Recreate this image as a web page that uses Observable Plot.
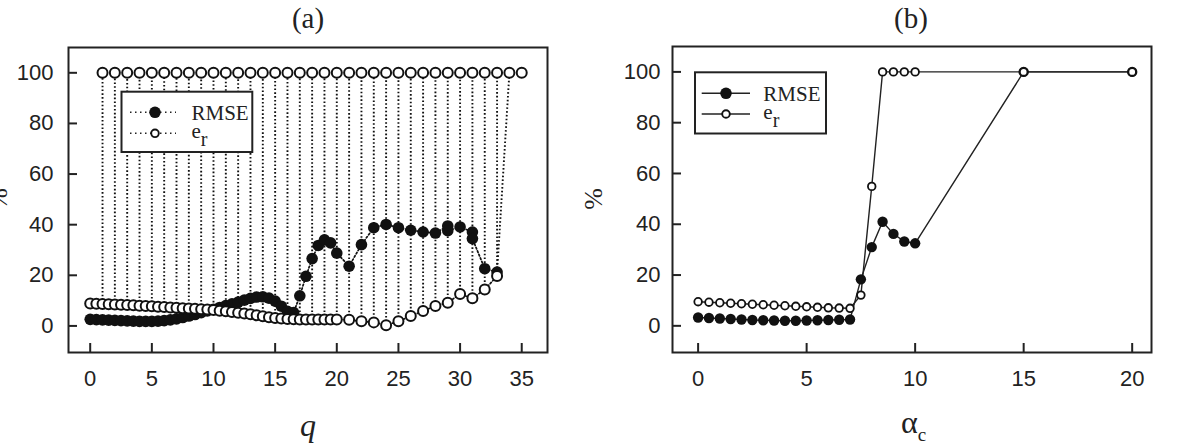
<!DOCTYPE html>
<html>
<head>
<meta charset="utf-8">
<script src="https://cdn.jsdelivr.net/npm/d3@7"></script>
<script src="https://cdn.jsdelivr.net/npm/@observablehq/plot@0.6"></script>
<style>
  body { margin: 0; background: #fff; }
  #wrap { position: relative; width: 1181px; height: 446px; overflow: hidden; background: #fff; }
  #pa, #pb { position: absolute; top: 0; }
  #pa { left: 0; }
  #pb { left: 570px; }
  svg { overflow: visible; }
</style>
</head>
<body>
<div id="wrap"><div id="pa"></div><div id="pb"></div></div>
<script>
// ---------- Panel (a) data ----------
const qLowA = [0,0.5,1,1.5,2,2.5,3,3.5,4,4.5,5,5.5,6,6.5,7,7.5,8,8.5,9,9.5,10,10.5,11,11.5,12,12.5,13,13.5,14,14.5,15,15.5,16,16.5,17,17.5,18,18.5,19,19.5,20,21,22,23,24,25,26,27,28,29,30,31,32,33];
const erLowA = [8.9,8.8,8.7,8.6,8.5,8.4,8.3,8.2,8.0,7.9,7.8,7.6,7.5,7.3,7.2,7.0,6.9,6.8,6.6,6.5,6.3,6.0,5.8,5.5,5.2,4.9,4.6,4.2,3.8,3.4,3.1,2.9,2.7,2.6,2.5,2.5,2.5,2.5,2.5,2.5,2.5,2.4,1.8,1.4,0.3,1.8,3.9,5.9,7.9,9.2,12.6,10.9,14.4,19.7];
const qRmseA = [0,0.5,1,1.5,2,2.5,3,3.5,4,4.5,5,5.5,6,6.5,7,7.5,8,8.5,9,9.5,10,10.5,11,11.5,12,12.5,13,13.5,14,14.5,15,15.5,16,16.5,17,17.5,18,18.5,19,19.5,20,21,22,23,24,25,26,27,28,29,29,30,31,31,32,33];
const rmseA = [2.6,2.5,2.4,2.3,2.2,2.1,2.0,1.9,1.8,1.8,1.8,1.9,2.1,2.4,2.8,3.3,3.9,4.5,5.2,5.9,6.6,7.3,8.0,8.7,9.4,10.2,10.9,11.4,11.5,11.0,9.8,7.8,5.8,5.3,11.9,19.6,26.6,31.8,34.0,32.8,28.8,23.6,32.1,38.8,40.1,38.8,37.8,37.1,36.7,39.5,37.6,39.1,37.1,34.5,22.6,21.3];
const qTopA = [1,2,3,4,5,6,7,8,9,10,11,12,13,14,15,16,17,18,19,20,21,22,23,24,25,26,27,28,29,30,31,32,33,34,35];
const erTopA = [100,100,100,100,100,100,100,100,100,100,100,100,100,100,100,100,100,100,100,100,100,100,100,100,100,100,100,100,100,100,100,100,100,100,100];
const xTicksA = [0,5,10,15,20,25,30,35];

// ---------- Panel (b) data ----------
const alphaC = [0,0.5,1,1.5,2,2.5,3,3.5,4,4.5,5,5.5,6,6.5,7,7.5,8,8.5,9,9.5,10,15,20];
const rmseB = [3.3,3.1,2.9,2.7,2.5,2.3,2.2,2.1,2.0,2.0,2.1,2.2,2.3,2.4,2.5,18.3,31.0,41.0,36.2,33.2,32.5,100,100];
const erB = [9.5,9.3,9.1,8.9,8.7,8.5,8.3,8.1,7.9,7.7,7.5,7.3,7.1,7.0,6.9,12.1,54.9,100,100,100,100,100,100];
const xTicksB = [0,5,10,15,20];

const yTicks = [0,20,40,60,80,100];
const sans = "'Liberation Sans', Arial, sans-serif";
const serif = "'Liberation Serif', 'Times New Roman', serif";
const ink = "#222";

// tables built from the arrays
const rmseDataA = qRmseA.map((q, i) => ({q, v: rmseA[i]}));
const erLowDataA = qLowA.map((q, i) => ({q, v: erLowA[i]}));
const erTopDataA = qTopA.map((q, i) => ({q, v: erTopA[i]}));
const erAllA = erLowDataA.concat(erTopDataA);
const lowAt = new Map(erLowDataA.map(d => [d.q, d.v]));
const rmseAt = new Map(rmseDataA.map(d => [d.q, d.v]));
// jumps from the low band up to the 100 row
const jumpsA = erTopDataA.filter(d => lowAt.has(d.q)).map(d => ({x1: d.q, y1: lowAt.get(d.q), x2: d.q, y2: d.v}));
const lastLow = qLowA[qLowA.length - 1];
const nextTop = erTopDataA.find(d => d.q > lastLow);
jumpsA.push({x1: lastLow, y1: rmseAt.get(lastLow), x2: nextTop.q, y2: nextTop.v});

const dotted = "1.6,2.2";

const plotA = Plot.plot({
  width: 570, height: 446,
  marginLeft: 68, marginRight: 23, marginTop: 47, marginBottom: 94,
  x: {domain: [-1.76, 37.09]},
  y: {domain: [-10.5, 110]},
  style: {background: "transparent", color: ink},
  marks: [
    Plot.link(jumpsA, {x1: "x1", y1: "y1", x2: "x2", y2: "y2", stroke: "#111", strokeWidth: 1.9, strokeDasharray: dotted}),
    Plot.line(rmseDataA, {x: "q", y: "v", stroke: "#111", strokeWidth: 1.7, strokeDasharray: dotted}),
    Plot.line(erLowDataA, {x: "q", y: "v", stroke: "#111", strokeWidth: 1.7, strokeDasharray: dotted}),
    Plot.dot(rmseDataA, {x: "q", y: "v", r: 5.8, fill: "#111", stroke: "none"}),
    Plot.dot(erAllA, {x: "q", y: "v", r: 5, fill: "white", stroke: "#111", strokeWidth: 2}),
    Plot.axisX({ticks: xTicksA, tickSize: -9, tickPadding: 27, strokeWidth: 2, fontSize: 22, fontFamily: sans, label: null}),
    Plot.axisY({ticks: yTicks, tickSize: -9, tickPadding: 24, strokeWidth: 2, fontSize: 22, fontFamily: sans, label: null}),
    Plot.frame({stroke: ink, strokeWidth: 2})
  ]
});

const rmseDataB = alphaC.map((a, i) => ({a, v: rmseB[i]}));
const erDataB = alphaC.map((a, i) => ({a, v: erB[i]}));

const plotB = Plot.plot({
  width: 611, height: 446,
  marginLeft: 102, marginRight: 30, marginTop: 46, marginBottom: 94,
  x: {domain: [-1.18, 20.89]},
  y: {domain: [-10.5, 110]},
  style: {background: "transparent", color: ink},
  marks: [
    Plot.line(rmseDataB, {x: "a", y: "v", stroke: ink, strokeWidth: 1.4}),
    Plot.line(erDataB, {x: "a", y: "v", stroke: ink, strokeWidth: 1.4}),
    Plot.dot(rmseDataB, {x: "a", y: "v", r: 5.2, fill: "#111", stroke: "none"}),
    Plot.dot(erDataB, {x: "a", y: "v", r: 3.8, fill: "white", stroke: "#111", strokeWidth: 1.8}),
    Plot.axisX({ticks: xTicksB, tickSize: -9, tickPadding: 27, strokeWidth: 2, fontSize: 22, fontFamily: sans, label: null}),
    Plot.axisY({ticks: yTicks, tickSize: -9, tickPadding: 21, strokeWidth: 2, fontSize: 22, fontFamily: sans, label: null}),
    Plot.frame({stroke: ink, strokeWidth: 2})
  ]
});

document.getElementById("pa").appendChild(plotA);
document.getElementById("pb").appendChild(plotB);

// ---------- annotations ----------
function annotate(svgNode, o) {
  const svg = d3.select(svgNode);
  const g = svg.append("g");
  // title
  g.append("text").attr("x", o.titleX).attr("y", 28).attr("text-anchor", "middle")
    .attr("font-family", serif).attr("font-size", 29).attr("fill", ink).text(o.title);
  // y label
  g.append("text").attr("transform", `translate(${o.pctX},199) rotate(-90)`)
    .attr("text-anchor", "middle").attr("dominant-baseline", "central")
    .attr("font-family", serif).attr("font-size", 26).attr("fill", ink).text("%");
  // legend
  const L = o.legend;
  const lg = g.append("g");
  lg.append("rect").attr("x", L.x).attr("y", L.y).attr("width", L.w).attr("height", L.h)
    .attr("fill", "white").attr("stroke", ink).attr("stroke-width", 2);
  const rows = [L.y1, L.y2];
  rows.forEach((ry, i) => {
    lg.append("line").attr("x1", L.lx1).attr("x2", L.lx2).attr("y1", ry).attr("y2", ry)
      .attr("stroke", ink).attr("stroke-width", L.dash ? 1.6 : 1.4)
      .attr("stroke-dasharray", L.dash ? "1.5,3.5" : null);
    if (i === 0) {
      lg.append("circle").attr("cx", L.mx).attr("cy", ry).attr("r", 5.8).attr("fill", "#111");
    } else {
      lg.append("circle").attr("cx", L.mx).attr("cy", ry).attr("r", 3.8).attr("fill", "white")
        .attr("stroke", "#111").attr("stroke-width", 1.9);
    }
  });
  lg.append("text").attr("x", L.tx).attr("y", L.y1 + 7.5).attr("text-anchor", "start")
    .attr("font-family", serif).attr("font-size", 21).attr("fill", ink).text("RMSE");
  const t2 = lg.append("text").attr("x", L.tx).attr("y", L.y2 + 4.5).attr("text-anchor", "start")
    .attr("font-family", serif).attr("font-size", 21).attr("fill", ink);
  t2.append("tspan").text("e");
  t2.append("tspan").attr("dy", 8).attr("font-size", 20).text("r");
  return g;
}

const gA = annotate(plotA, {
  title: "(a)", titleX: 308, pctX: -1.5,
  legend: {x: 121.5, y: 91.7, w: 130.8, h: 60.3, y1: 112.3, y2: 133.3, lx1: 130, lx2: 176, mx: 155, tx: 191.5, dash: true}
});
gA.append("text").attr("x", 308).attr("y", 436).attr("text-anchor", "middle")
  .attr("font-family", serif).attr("font-style", "italic").attr("font-size", 32).attr("fill", ink).text("q");

const gB = annotate(plotB, {
  title: "(b)", titleX: 341, pctX: 23,
  legend: {x: 125, y: 72.3, w: 131, h: 61.2, y1: 93.3, y2: 114, lx1: 131.7, lx2: 180, mx: 156, tx: 193.3, dash: false}
});
const ax = gB.append("text").attr("x", 331).attr("y", 433).attr("text-anchor", "start")
  .attr("font-family", serif).attr("font-size", 32).attr("fill", ink);
ax.append("tspan").text("α");
ax.append("tspan").attr("dy", 8).attr("font-size", 19).text("c");
</script>
</body>
</html>
